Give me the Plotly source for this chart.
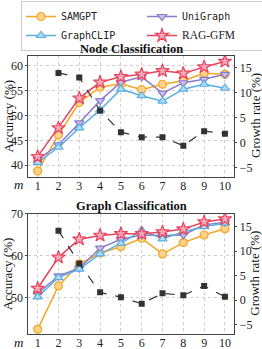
import plotly.graph_objects as go
from plotly.subplots import make_subplots

# ---------------- data ----------------
m = [1, 2, 3, 4, 5, 6, 7, 8, 9, 10]
m_growth = [2, 3, 4, 5, 6, 7, 8, 9, 10]
x_ticks = [1, 2, 3, 4, 5, 6, 7, 8, 9, 10]

node_samgpt = [38.8, 46.1, 52.6, 55.7, 56.4, 55.2, 56.3, 57.0, 58.5, 58.3]
node_graphclip = [40.5, 43.6, 47.5, 51.1, 55.3, 54.0, 52.9, 55.3, 56.3, 55.5]
node_unigraph = [41.1, 44.1, 48.5, 53.0, 56.7, 57.8, 54.5, 56.6, 57.3, 58.3]
node_raggfm = [41.7, 47.5, 53.5, 56.7, 57.8, 58.3, 59.0, 58.5, 59.8, 60.9]
node_growth = [14.0, 13.1, 6.4, 2.1, 1.1, 1.1, -0.6, 2.3, 1.8]

graph_samgpt = [42.5, 52.8, 58.0, 60.6, 62.1, 64.1, 60.4, 63.1, 64.9, 66.4]
graph_graphclip = [50.2, 54.8, 56.8, 60.4, 62.9, 66.0, 64.0, 65.6, 66.9, 67.7]
graph_unigraph = [51.0, 55.2, 57.0, 61.8, 63.9, 64.9, 64.8, 64.9, 67.3, 67.9]
graph_raggfm = [52.2, 59.6, 63.9, 64.8, 65.2, 65.2, 65.6, 66.3, 68.0, 68.7]
graph_growth = [14.2, 7.5, 1.6, 0.6, -0.7, 1.4, 1.0, 2.9, 0.7]

node_acc_ticks = [40, 45, 50, 55, 60]
graph_acc_ticks = [50, 60, 70]
growth_ticks = [-5, 0, 5, 10, 15]

# ---------------- style ----------------
SERIF = "Liberation Serif"
MONO = "DejaVu Sans Mono"
AXC = "#444444"
GRIDC = "#cfcfcf"

methods = [
    # name, legend label, symbol, line color, fill color, size, node data, graph data
    ("SAMGPT", "SAMGPT", "circle", "#F5A623", "#FFD38F", 8, node_samgpt, graph_samgpt),
    ("UniGraph", "UniGraph", "triangle-down", "#8C7CC8", "#C9BEEB", 8, node_unigraph, graph_unigraph),
    ("GraphCLIP", "GraphCLIP", "triangle-up", "#5AAEE0", "#B3DAF3", 8, node_graphclip, graph_graphclip),
    ("RAG-GFM", "<span style='font-family:Liberation Serif;font-size:11.5px'>RAG-GFM</span>",
     "star", "#E8435C", "#F7A9B8", 10, node_raggfm, graph_raggfm),
]

fig = make_subplots(rows=2, cols=1,
                    specs=[[{"secondary_y": True}], [{"secondary_y": True}]])

for row in (1, 2):
    for name, label, sym, lc, fc, sz, nd, gd in methods:
        fig.add_trace(go.Scatter(
            x=m, y=nd if row == 1 else gd, mode="lines+markers",
            name=label, legendgroup=name, showlegend=(row == 1),
            line=dict(color=lc, width=1.5),
            marker=dict(symbol=sym, size=sz, color=fc, line=dict(color=lc, width=1.2)),
        ), row=row, col=1, secondary_y=False)
    fig.add_trace(go.Scatter(
        x=m_growth, y=node_growth if row == 1 else graph_growth, mode="lines+markers",
        name="Growth", showlegend=False,
        line=dict(color="#333333", width=1.2, dash="dash"),
        marker=dict(symbol="square", size=6, color="#333333"),
    ), row=row, col=1, secondary_y=True)

W, H = 262, 349


def py(px):
    return 1 - px / H


def pxx(px):
    return px / W


x_dom = [pxx(28.3), pxx(234.3)]
top_dom = [py(176.5), py(55.5)]
bot_dom = [py(334), py(213.5)]

TICKF = dict(family=SERIF, size=12, color="#222")
xcommon = dict(range=[0.55, 10.45], tickvals=x_ticks, ticks="",
               showline=True, linecolor=AXC, linewidth=1, mirror=True,
               showgrid=True, gridcolor=GRIDC, griddash="dot", gridwidth=1,
               tickfont=TICKF, zeroline=False, automargin=False, ticklabelstandoff=-2)
yleft = dict(ticks="outside", ticklen=2, tickcolor=AXC, showline=True, linecolor=AXC,
             linewidth=1, mirror=True, showgrid=True, gridcolor=GRIDC, griddash="dot",
             tickfont=TICKF, zeroline=False, automargin=False)
yright = dict(ticks="outside", ticklen=2, tickcolor=AXC, showline=True, linecolor=AXC,
              linewidth=1, showgrid=False, tickvals=growth_ticks,
              ticktext=[str(v).replace("-", "\u2212") for v in growth_ticks],
              tickfont=TICKF, zeroline=False, automargin=False)

fig.update_layout(
    width=W, height=H, margin=dict(l=0, r=0, t=0, b=0, autoexpand=False),
    plot_bgcolor="white", paper_bgcolor="white",
    xaxis=dict(domain=x_dom, **xcommon),
    xaxis2=dict(domain=x_dom, **xcommon),
    yaxis=dict(domain=top_dom, range=[37.7, 62.1], tickvals=node_acc_ticks, **yleft),
    yaxis2=dict(range=[-6.8, 17.5], **yright),
    yaxis3=dict(domain=bot_dom, range=[41.4, 70.0], tickvals=graph_acc_ticks, **yleft),
    yaxis4=dict(range=[-6.9, 17.7], **yright),
    legend=dict(orientation="h", x=pxx(21), y=py(1), xanchor="left", yanchor="top",
                entrywidth=76, entrywidthmode="pixels", bgcolor="white",
                bordercolor="#cccccc", borderwidth=1,
                font=dict(family=MONO, size=10, color="#222"), itemwidth=30,
                tracegroupgap=0),
    showlegend=True,
)

ann = []
title_font = dict(family=SERIF, size=12.5, color="#111")
ann.append(dict(text="<b>Node Classification</b>", x=pxx(131), y=py(48.5), xref="paper", yref="paper",
                showarrow=False, font=title_font, xanchor="center", yanchor="middle"))
ann.append(dict(text="<b>Graph Classification</b>", x=pxx(131), y=py(206), xref="paper", yref="paper",
                showarrow=False, font=title_font, xanchor="center", yanchor="middle"))
for cy in ((55.5 + 176.5) / 2, (213.5 + 334) / 2):
    ann.append(dict(text="Accuracy (%)", x=pxx(7.5), y=py(cy), xref="paper", yref="paper",
                    showarrow=False, textangle=-90, xanchor="center", yanchor="middle",
                    font=dict(family=SERIF, size=13, color="#111")))
    ann.append(dict(text="Growth rate (%)", x=pxx(255), y=py(cy), xref="paper", yref="paper",
                    showarrow=False, textangle=-90, xanchor="center", yanchor="middle",
                    font=dict(family=SERIF, size=13, color="#111")))
for yy in (184.5, 342.5):
    ann.append(dict(text="<i>m</i>", x=pxx(18), y=py(yy), xref="paper", yref="paper",
                    showarrow=False, xanchor="center", yanchor="middle",
                    font=dict(family=SERIF, size=13, color="#111")))
fig.update_layout(annotations=ann)

fig.write_html("out.html", config={"displayModeBar": False},
               post_script="document.body.style.margin='0';document.body.style.padding='0';")
